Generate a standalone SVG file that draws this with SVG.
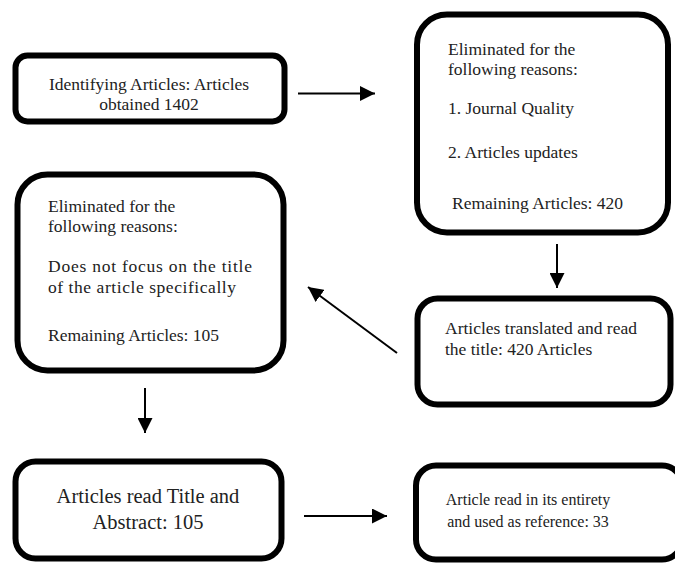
<svg xmlns="http://www.w3.org/2000/svg" width="675" height="563" viewBox="0 0 675 563">
<defs>
<style>
.box{fill:#fff;stroke:#000;stroke-width:6}
.t{font-family:'Liberation Serif','Times New Roman',serif;font-size:17.5px;fill:#222}
.c{text-anchor:middle}
.big{font-size:20.5px}
.sm{font-size:16px}
.conn line{stroke:#000;stroke-width:2}
</style>
<marker id="ah" viewBox="0 0 10 10" refX="10" refY="5" markerWidth="7.5" markerHeight="7.5" orient="auto" markerUnits="strokeWidth">
<path d="M0,0 L10,5 L0,10 z" fill="#000"/>
</marker>
</defs>
<rect width="675" height="563" fill="#fff"/>
<g id="connectors" class="conn">
<line x1="298" y1="93.5" x2="375" y2="93.5" marker-end="url(#ah)"/>
<line x1="557" y1="244" x2="557" y2="288" marker-end="url(#ah)"/>
<line x1="397" y1="353" x2="308" y2="287" marker-end="url(#ah)"/>
<line x1="145" y1="388" x2="145" y2="433" marker-end="url(#ah)"/>
<line x1="304" y1="516" x2="387" y2="516" marker-end="url(#ah)"/>
</g>
<g id="n1">
<rect class="box" x="15.5" y="55.5" width="269" height="66" rx="12"/>
<text class="t c" x="149" y="90">Identifying Articles: Articles</text>
<text class="t c" x="149" y="110">obtained 1402</text>
</g>
<g id="n2">
<rect class="box" x="417" y="14.5" width="251" height="218" rx="30"/>
<text class="t" x="448" y="55">Eliminated for the</text>
<text class="t" x="448" y="75">following reasons:</text>
<text class="t" x="448" y="114">1. Journal Quality</text>
<text class="t" x="448" y="158">2. Articles updates</text>
<text class="t" x="452" y="209">Remaining Articles: 420</text>
</g>
<g id="n3">
<rect class="box" x="17.5" y="174.5" width="266" height="196" rx="30"/>
<text class="t" x="48" y="212">Eliminated for the</text>
<text class="t" x="48" y="232">following reasons:</text>
<text class="t" x="48" y="272" textLength="204" lengthAdjust="spacing">Does not focus on the title</text>
<text class="t" x="48" y="293" textLength="188" lengthAdjust="spacing">of the article specifically</text>
<text class="t" x="48" y="341">Remaining Articles: 105</text>
</g>
<g id="n4">
<rect class="box" x="417.5" y="298.5" width="253" height="106" rx="20"/>
<text class="t" x="445" y="334">Articles translated and read</text>
<text class="t" x="445" y="355">the title: 420 Articles</text>
</g>
<g id="n5">
<rect class="box" x="15.5" y="461.5" width="266" height="97" rx="20"/>
<text class="t c big" x="148" y="503">Articles read Title and</text>
<text class="t c big" x="148" y="529">Abstract: 105</text>
</g>
<g id="n6">
<rect class="box" x="416" y="465.5" width="266" height="94" rx="20"/>
<text class="t c sm" x="528" y="505">Article read in its entirety</text>
<text class="t c sm" x="528" y="527">and used as reference: 33</text>
</g>
</svg>
